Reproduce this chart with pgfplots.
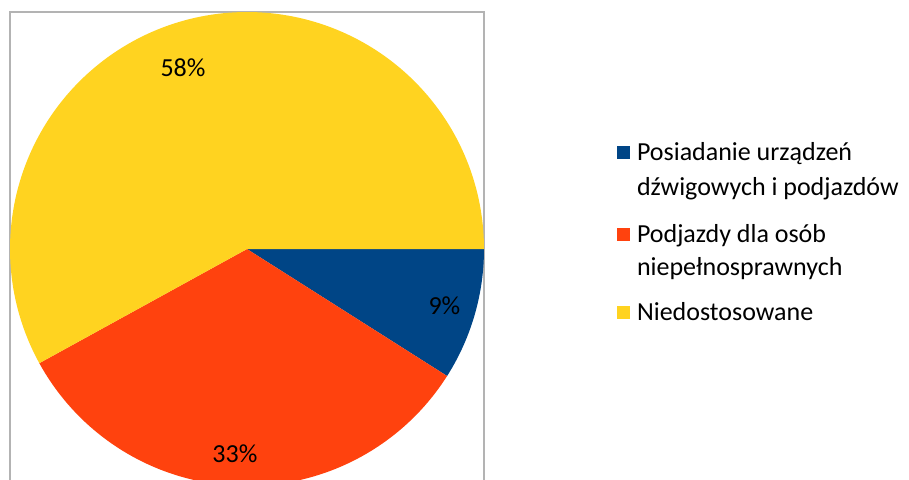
\documentclass[border=0pt]{standalone}
\usepackage{pgfplots}
\pgfplotsset{compat=1.18}
\usepackage{fontspec}
\setmainfont{Carlito}
\definecolor{pblue}{HTML}{004586}
\definecolor{porange}{HTML}{FF420E}
\definecolor{pyellow}{HTML}{FFD320}
\definecolor{framegray}{HTML}{B3B3B3}
% shares in percent
\def\va{9}
\def\vb{33}
\def\vc{58}
\pgfplotsset{
  sq/.style={legend image code/.code={\path[draw=none,fill=none] (0pt,-5pt) rectangle (0pt,#1);\fill[##1,draw=none] (0pt,0.5pt) rectangle (6.5pt,7pt);}},
  gap/.style={draw=none, fill=none, legend image code/.code={\path[draw=none,fill=none] (0pt,-5pt) rectangle (0pt,#1);}},
}
\begin{document}
\begin{tikzpicture}
\path[use as bounding box] (0pt,0pt) rectangle (454.5pt,-239.5pt);
\begin{axis}[
  at={(5pt,-6pt)}, anchor=north west,
  scale only axis, width=237pt, height=237pt,
  xmin=-1, xmax=1, ymin=-1, ymax=1,
  ticks=none, clip=false,
  axis line style={draw=framegray, line width=1pt},
  legend style={draw=none, fill=none, inner sep=0pt, outer sep=0pt,
    at={(axis description cs:1.2806,0.738)}, anchor=north west,
    font=\fontsize{13}{17}\selectfont,
    nodes={inner sep=0pt, outer sep=0pt},
    cells={anchor=base west},
    column sep=3.5pt, row sep=0pt},
]
\addplot[fill=pblue, draw=none, sq=12pt, domain={-3.6*\va}:0, samples=80]
  ({cos(x)},{sin(x)}) -- (0,0) -- cycle;
\addlegendentry{Posiadanie urządzeń}
\addlegendimage{gap=12.5pt}
\addlegendentry{dźwigowych i podjazdów}
\addplot[fill=porange, draw=none, sq=18.5pt, domain={-3.6*(\va+\vb)}:{-3.6*\va}, samples=120]
  ({cos(x)},{sin(x)}) -- (0,0) -- cycle;
\addlegendentry{Podjazdy dla osób}
\addlegendimage{gap=11.5pt}
\addlegendentry{niepełnosprawnych}
\addplot[fill=pyellow, draw=none, sq=17.5pt, domain={-3.6*(\va+\vb+\vc)}:{-3.6*(\va+\vb)}, samples=180]
  ({cos(x)},{sin(x)}) -- (0,0) -- cycle;
\addlegendentry{Niedostosowane}
\node[font=\fontsize{13}{15.6}\selectfont] at (axis cs:-0.270,0.764) {58\%};
\node[font=\fontsize{13}{15.6}\selectfont] at (axis cs:0.833,-0.241) {9\%};
\node[font=\fontsize{13}{15.6}\selectfont] at (axis cs:-0.051,-0.865) {33\%};
\end{axis}
\end{tikzpicture}
\end{document}
